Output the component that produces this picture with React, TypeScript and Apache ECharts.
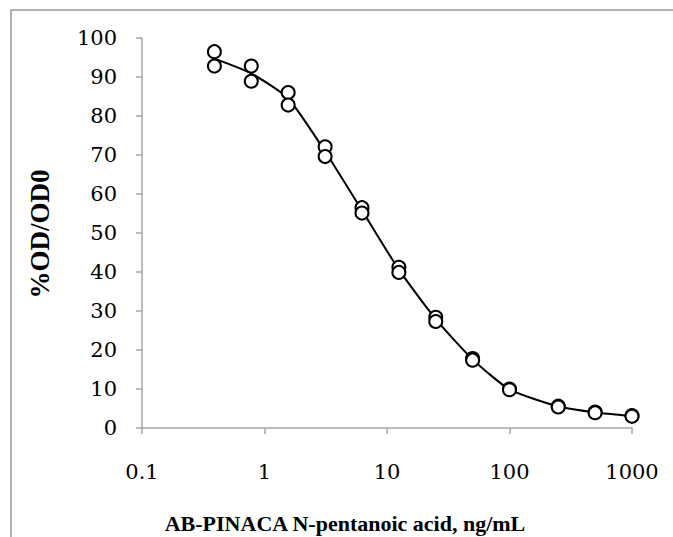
import React, { useEffect, useRef } from "react";
import * as echarts from "echarts";

const concentrations = [0.39, 0.78, 1.56, 3.125, 6.25, 12.5, 25, 50, 100, 250, 500, 1000];
const replicateA = [96.5, 92.8, 86.0, 72.1, 56.5, 41.2, 28.4, 17.8, 10.0, 5.6, 4.1, 3.2];
const replicateB = [92.8, 88.9, 82.8, 69.6, 55.1, 39.9, 27.3, 17.4, 9.8, 5.4, 3.9, 3.0];
const fitValues = [94.7, 90.9, 84.5, 70.9, 55.8, 40.6, 27.9, 17.6, 9.9, 5.5, 4.0, 3.1];
const xTitle = "AB-PINACA N-pentanoic acid, ng/mL";
const yTitle = "%OD/OD0";

const TICK_FONT = "'DejaVu Serif', 'Liberation Serif', serif";
const TITLE_FONT = "'Liberation Serif', 'DejaVu Serif', serif";
const AXIS_GRAY = "#a6a6a6";

export default function App() {
  const ref = useRef<HTMLDivElement>(null);
  useEffect(() => {
    document.body.style.margin = "0";
    const chart = echarts.init(ref.current!, null, { renderer: "svg" });
    const marker = {
      type: "scatter" as const,
      symbol: "circle",
      symbolSize: 13,
      itemStyle: { color: "#ffffff", borderColor: "#000000", borderWidth: 2, opacity: 1 },
      z: 5,
    };
    chart.setOption({
      animation: false,
      backgroundColor: "#ffffff",
      grid: { left: 142, right: 41, top: 38, bottom: 109 },
      xAxis: {
        type: "log",
        logBase: 10,
        min: 0.1,
        max: 1000,
        axisLine: { show: true, lineStyle: { color: AXIS_GRAY, width: 1.5 } },
        axisTick: { show: true, length: 6, lineStyle: { color: AXIS_GRAY, width: 1.5 } },
        minorTick: { show: false },
        splitLine: { show: false },
        axisLabel: {
          margin: 33,
          color: "#000",
          fontFamily: TICK_FONT,
          fontSize: 21,
          formatter: (v: number) => String(Number(v.toPrecision(3))),
        },
      },
      yAxis: {
        type: "value",
        min: 0,
        max: 100,
        interval: 10,
        axisLine: { show: true, lineStyle: { color: AXIS_GRAY, width: 1.5 } },
        axisTick: { show: true, length: 6, lineStyle: { color: AXIS_GRAY, width: 1.5 } },
        splitLine: { show: false },
        axisLabel: {
          margin: 25,
          color: "#000",
          fontFamily: TICK_FONT,
          fontSize: 21,
        },
      },
      series: [
        {
          type: "line",
          data: concentrations.map((c, i) => [c, fitValues[i]]),
          smooth: 0.2,
          showSymbol: false,
          lineStyle: { color: "#000", width: 2 },
          z: 3,
        },
        { ...marker, data: concentrations.map((c, i) => [c, replicateA[i]]) },
        { ...marker, data: concentrations.map((c, i) => [c, replicateB[i]]) },
      ],
      graphic: [
        {
          type: "polyline",
          shape: { points: [[11, 540], [11, 10], [673, 10]] },
          style: { fill: "none", stroke: "#999999", lineWidth: 1.5 },
          silent: true,
        },
        {
          type: "text",
          x: 345,
          y: 523,
          style: {
            text: xTitle,
            font: `bold 22px ${TITLE_FONT}`,
            fill: "#000",
            align: "center",
            verticalAlign: "middle",
          },
        },
        {
          type: "text",
          x: 40,
          y: 234,
          rotation: Math.PI / 2,
          style: {
            text: yTitle,
            font: `bold 27px ${TITLE_FONT}`,
            fill: "#000",
            align: "center",
            verticalAlign: "middle",
          },
        },
      ],
    });
    return () => chart.dispose();
  }, []);
  return <div ref={ref} style={{ width: 673, height: 537 }} />;
}
